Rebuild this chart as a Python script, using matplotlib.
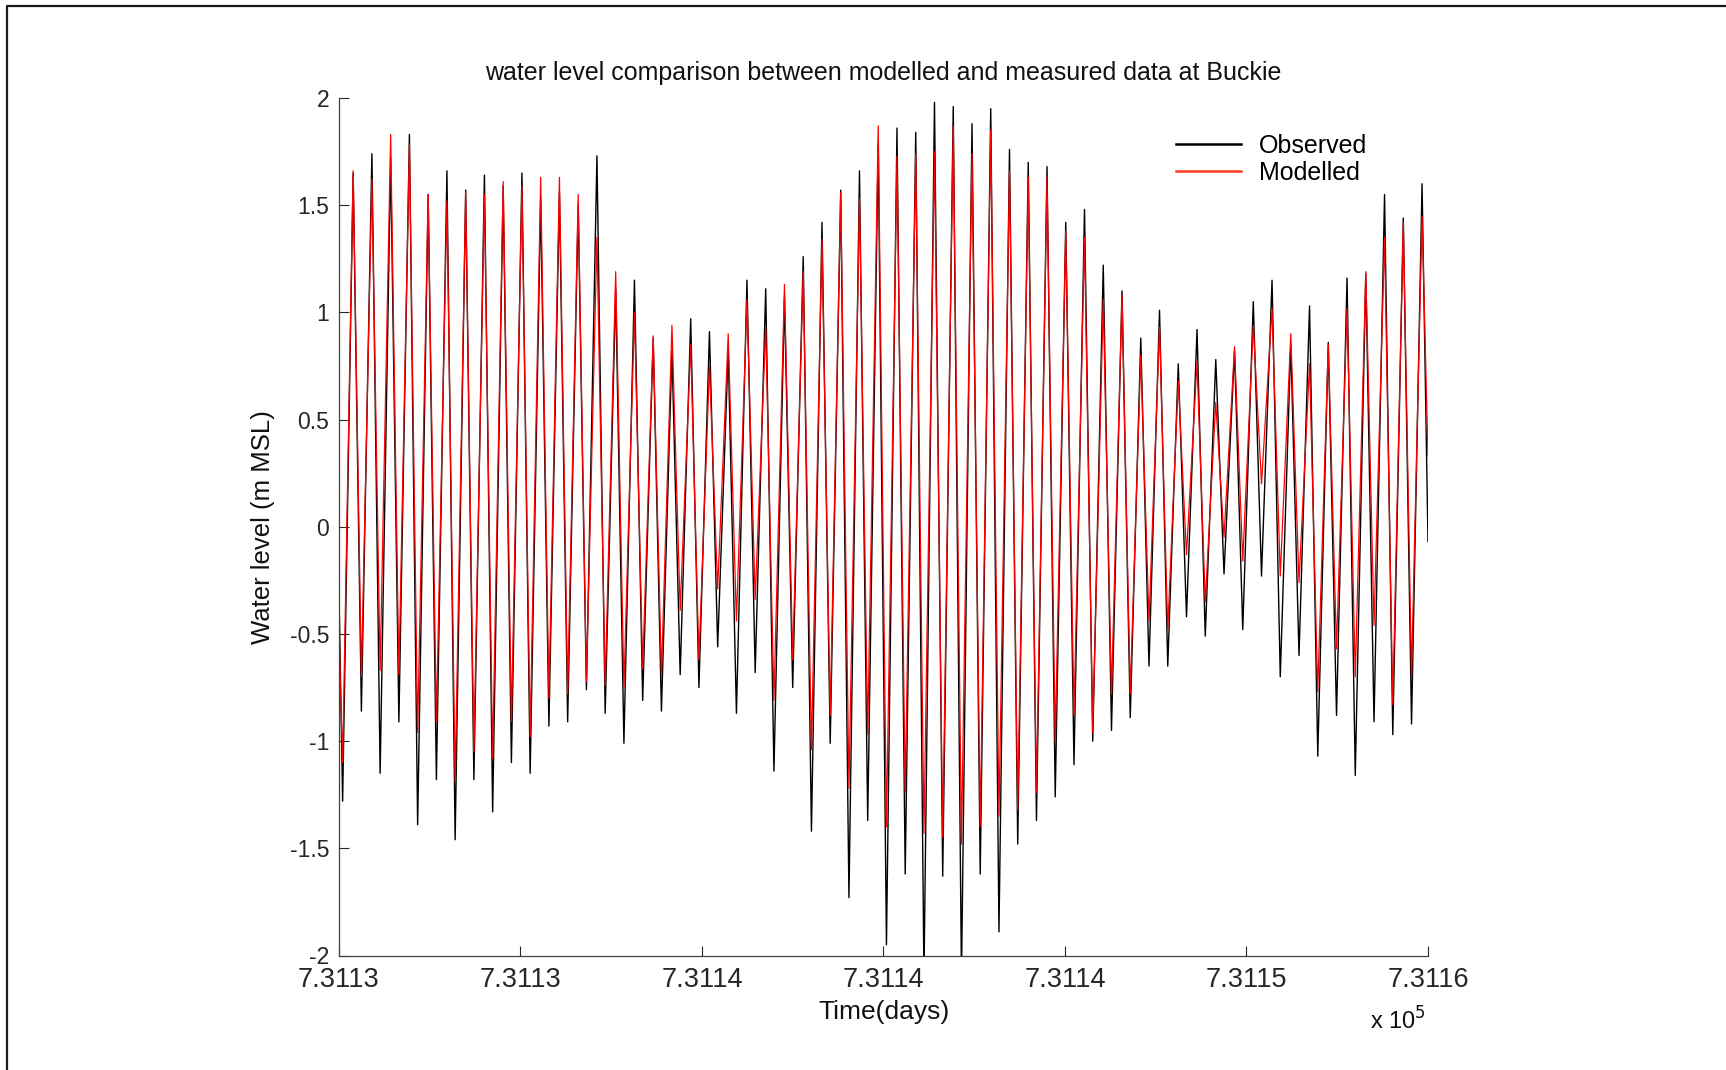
import numpy as np
import matplotlib
matplotlib.use("Agg")
import matplotlib.pyplot as plt
from matplotlib.lines import Line2D

plt.rcParams['font.family'] = ['Liberation Sans', 'DejaVu Sans']
plt.rcParams['axes.unicode_minus'] = False

# time axis (days, matlab datenum)
t_start = 731130.0
t_end = 731160.0
t_first_low = 731130.10
t_first_high = 731130.39
tide_period = 0.5166

# observed high / low waters (m MSL)
obs_high = [1.65, 1.74, 1.72, 1.83, 1.55, 1.66, 1.57, 1.64, 1.59, 1.65, 1.53, 1.56, 1.50, 1.73,
            1.11, 1.15, 0.88, 0.82, 0.97, 0.91, 0.82, 1.15, 1.11, 1.07, 1.26, 1.42, 1.57, 1.66, 1.79,
            1.86, 1.84, 1.98, 1.96, 1.88, 1.95, 1.76, 1.70, 1.68, 1.42, 1.48, 1.22, 1.10, 0.88,
            1.01, 0.76, 0.92, 0.78, 0.82, 1.05, 1.15, 0.85, 1.03, 0.86, 1.16, 1.18, 1.55, 1.44, 1.60]
obs_low = [-1.28, -0.86, -1.15, -0.91, -1.39, -1.18, -1.46, -1.18, -1.33, -1.10, -1.15, -0.93, -0.91, -0.76, -0.87,
           -1.01, -0.81, -0.86, -0.69, -0.75, -0.56, -0.87, -0.68, -1.14, -0.75, -1.42, -1.01, -1.73, -1.37,
           -1.95, -1.62, -2.10, -1.63, -2.10, -1.62, -1.89, -1.48, -1.37, -1.26, -1.11, -1.00, -0.95, -0.89, -0.65,
           -0.65, -0.42, -0.51, -0.22, -0.48, -0.23, -0.70, -0.60, -1.07, -0.88, -1.16, -0.91, -0.97, -0.92]
obs_ends = [-0.31, -0.07]

# modelled high / low waters
mod_high = [1.66, 1.62, 1.83, 1.78, 1.55, 1.52, 1.56, 1.55, 1.61, 1.59, 1.63, 1.63, 1.55, 1.35,
            1.19, 1.00, 0.89, 0.94, 0.85, 0.75, 0.90, 1.06, 0.93, 1.13, 1.19, 1.34, 1.56, 1.53, 1.87,
            1.73, 1.74, 1.75, 1.87, 1.74, 1.85, 1.66, 1.63, 1.63, 1.38, 1.35, 1.06, 1.08, 0.80,
            0.93, 0.68, 0.77, 0.58, 0.84, 0.94, 1.02, 0.90, 0.76, 0.85, 1.02, 1.19, 1.35, 1.42, 1.45]
mod_low = [-1.10, -0.70, -0.67, -0.69, -0.96, -0.91, -1.19, -1.05, -1.08, -0.91, -0.98, -0.80, -0.78, -0.72, -0.74,
           -0.75, -0.66, -0.69, -0.39, -0.62, -0.29, -0.44, -0.34, -0.81, -0.62, -1.04, -0.88, -1.22, -0.97,
           -1.40, -1.24, -1.43, -1.45, -1.48, -1.40, -1.35, -1.32, -1.24, -1.00, -0.88, -0.96, -0.78, -0.78, -0.44,
           -0.48, -0.13, -0.35, -0.05, -0.16, 0.20, -0.23, -0.26, -0.77, -0.57, -0.70, -0.46, -0.83, -0.69]
mod_ends = [-0.50, 0.33]

xtick_vals = [731130, 731135, 731140, 731145, 731150, 731155, 731160]
xtick_labels = ['7.3113', '7.3113', '7.3114', '7.3114', '7.3114', '7.3115', '7.3116']
ytick_vals = [-2, -1.5, -1, -0.5, 0, 0.5, 1, 1.5, 2]
ytick_labels = ['-2', '-1.5', '-1', '-0.5', '0', '0.5', '1', '1.5', '2']


def tide_series(highs, lows, ends):
    n = len(highs)
    t_low = t_first_low + tide_period * np.arange(n)
    t_high = t_first_high + tide_period * np.arange(n)
    tt = [t_start]
    yy = [ends[0]]
    for k in range(n):
        tt += [t_low[k], t_high[k]]
        yy += [lows[k], highs[k]]
    tt.append(t_end)
    yy.append(ends[1])
    return np.array(tt), np.array(yy)


W, H = 1726, 1070
fig = plt.figure(figsize=(W / 100, H / 100), dpi=100)
ax = fig.add_axes([339 / W, 1 - 955.5 / H, (1428 - 339) / W, (955.5 - 98) / H])

txtcol = '#111111'
t_obs, y_obs = tide_series(obs_high, obs_low, obs_ends)
t_mod, y_mod = tide_series(mod_high, mod_low, mod_ends)
ax.plot(t_obs, y_obs, color='black', lw=1.0)
ax.plot(t_mod, y_mod, color='red', lw=0.9)

ax.set_xlim(t_start, t_end)
ax.set_ylim(-2, 2)
ax.set_xticks(xtick_vals)
ax.set_xticklabels(xtick_labels)
ax.set_yticks(ytick_vals)
ax.set_yticklabels(ytick_labels)
ax.tick_params(direction='in', length=7, width=0.8, pad=7, labelsize=16.5, colors='#262626')
ax.tick_params(axis='x', pad=8, labelsize=19.5)
for s in ['top', 'right']:
    ax.spines[s].set_visible(False)
for s in ['left', 'bottom']:
    ax.spines[s].set_color('#404040')
    ax.spines[s].set_linewidth(0.9)

ax.set_title('water level comparison between modelled and measured data at Buckie',
             fontsize=18, pad=13, color=txtcol)
ax.set_xlabel('Time(days)', fontsize=19, labelpad=5, color=txtcol)
ax.set_ylabel('Water level (m MSL)', fontsize=18.5, labelpad=11, color=txtcol)
fig.text(1370 / W, 1 - 1021 / H, 'x 10$^{5}$', fontsize=17, va='center', ha='left', color=txtcol)

handles = [Line2D([], [], color='black', lw=1.8), Line2D([], [], color='#ff3c1e', lw=1.8)]
fig.legend(handles, ['Observed', 'Modelled'], loc='upper left',
           bbox_to_anchor=(1176 / W, 1 - 134 / H), frameon=False, fontsize=18,
           handlelength=2.6, handletextpad=0.7, labelspacing=0.12,
           borderpad=0, borderaxespad=0)

# outer frame (left and top edges only)
fig.add_artist(Line2D([6.5 / W, 6.5 / W, 1], [0, 1 - 6 / H, 1 - 6 / H],
                      transform=fig.transFigure, color='#1a1a1a', lw=1.6))

fig.savefig('out.png', dpi=100)
